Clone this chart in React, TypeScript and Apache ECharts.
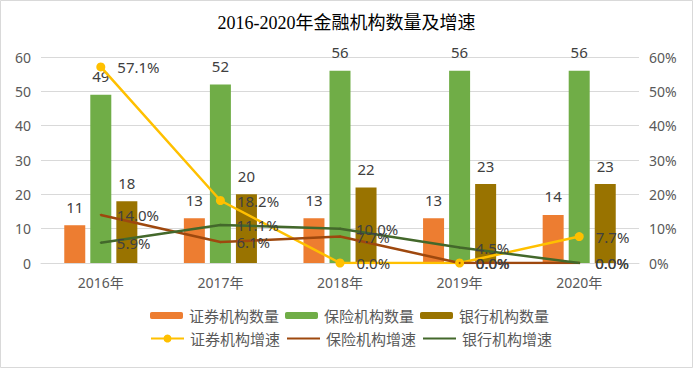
import React, { useEffect, useRef } from "react";
import * as echarts from "echarts";

const categories = ["2016年", "2017年", "2018年", "2019年", "2020年"];
const securitiesCount = [11, 13, 13, 13, 14];
const insuranceCount = [49, 52, 56, 56, 56];
const bankCount = [18, 20, 22, 23, 23];
const securitiesGrowth = [57.1, 18.2, 0.0, 0.0, 7.7];
const insuranceGrowth = [14.0, 6.1, 7.7, 0.0, 0.0];
const bankGrowth = [5.9, 11.1, 10.0, 4.5, 0.0];

const FONT = "'Noto Sans', 'Noto Sans CJK SC', sans-serif";

export default function App() {
  const ref = useRef<HTMLDivElement>(null);
  useEffect(() => {
    if (!ref.current) return;
    const chart = echarts.init(ref.current, undefined, { renderer: "svg" });
    const barLabel = {
      show: true,
      position: "top",
      distance: 11,
      color: "#404040",
      fontSize: 15,
      fontFamily: FONT,
    };
    const lineLabel = (dist: number) => ({
      show: true,
      position: "right",
      distance: dist,
      color: "#404040",
      fontSize: 15,
      fontFamily: FONT,
      formatter: (p: any) => Number(p.value).toFixed(1) + "%",
    });
    chart.setOption({
      animation: false,
      backgroundColor: "#ffffff",
      title: {
        text: "2016-2020年金融机构数量及增速",
        left: "center",
        top: 9,
        textStyle: {
          fontFamily: "'Liberation Serif', 'Noto Sans CJK SC', serif",
          fontSize: 18,
          fontWeight: "normal",
          color: "#000000",
        },
      },
      graphic: [
        {
          type: "rect",
          shape: { x: 0.5, y: 0.5, width: 692, height: 367 },
          style: { fill: "none", stroke: "#d9d9d9", lineWidth: 1 },
          silent: true,
        },
      ],
      grid: { left: 41, right: 54, top: 57, bottom: 105, containLabel: false },
      legend: [
        {
          data: ["证券机构数量", "保险机构数量", "银行机构数量"],
          left: 145,
          top: 303,
          itemWidth: 33,
          itemHeight: 7,
          itemGap: 6,
          textStyle: { color: "#595959", fontSize: 15, fontFamily: FONT, padding: [0, 0, 0, 1] },
        },
        {
          data: [
            { name: "证券机构增速" },
            { name: "保险机构增速", itemStyle: { opacity: 0 } },
            { name: "银行机构增速", itemStyle: { opacity: 0 } },
          ],
          left: 145,
          top: 326,
          itemWidth: 33,
          itemHeight: 10,
          itemGap: 6,
          textStyle: { color: "#595959", fontSize: 15, fontFamily: FONT, padding: [0, 0, 0, 1] },
        },
      ],
      xAxis: {
        type: "category",
        data: categories,
        axisLine: { lineStyle: { color: "#d9d9d9" } },
        axisTick: { show: false },
        axisLabel: { color: "#595959", fontSize: 14, fontFamily: FONT, margin: 12 },
      },
      yAxis: [
        {
          type: "value",
          min: 0,
          max: 60,
          interval: 10,
          axisLine: { show: false },
          axisTick: { show: false },
          splitLine: { lineStyle: { color: "#d9d9d9" } },
          axisLabel: { color: "#595959", fontSize: 14, fontFamily: FONT, margin: 10 },
        },
        {
          type: "value",
          min: 0,
          max: 60,
          interval: 10,
          axisLine: { show: false },
          axisTick: { show: false },
          splitLine: { show: false },
          axisLabel: {
            color: "#595959",
            fontSize: 14,
            fontFamily: FONT,
            margin: 10,
            formatter: "{value}%",
          },
        },
      ],
      series: [
        {
          name: "证券机构数量",
          type: "bar",
          data: securitiesCount,
          barWidth: 21,
          barGap: "24%",
          itemStyle: { color: "#ED7D31" },
          label: barLabel,
        },
        {
          name: "保险机构数量",
          type: "bar",
          data: insuranceCount,
          barWidth: 21,
          barGap: "24%",
          itemStyle: { color: "#70AD47" },
          label: barLabel,
        },
        {
          name: "银行机构数量",
          type: "bar",
          data: bankCount,
          barWidth: 21,
          barGap: "24%",
          itemStyle: { color: "#997300" },
          label: barLabel,
        },
        {
          name: "证券机构增速",
          type: "line",
          yAxisIndex: 1,
          data: securitiesGrowth,
          symbol: "circle",
          symbolSize: 9,
          itemStyle: { color: "#FFC000" },
          lineStyle: { color: "#FFC000", width: 2.5 },
          label: lineLabel(12),
        },
        {
          name: "保险机构增速",
          type: "line",
          yAxisIndex: 1,
          data: insuranceGrowth,
          symbol: "circle",
          symbolSize: 2,
          itemStyle: { color: "#9E480E" },
          lineStyle: { color: "#9E480E", width: 2.5 },
          label: lineLabel(15),
        },
        {
          name: "银行机构增速",
          type: "line",
          yAxisIndex: 1,
          data: bankGrowth,
          symbol: "circle",
          symbolSize: 2,
          itemStyle: { color: "#43682B" },
          lineStyle: { color: "#43682B", width: 2.5 },
          label: lineLabel(15),
        },
      ],
    });
    return () => chart.dispose();
  }, []);
  return (
    <div
      ref={ref}
      style={{ position: "fixed", left: 0, top: 0, width: 693, height: 368 }}
    />
  );
}
